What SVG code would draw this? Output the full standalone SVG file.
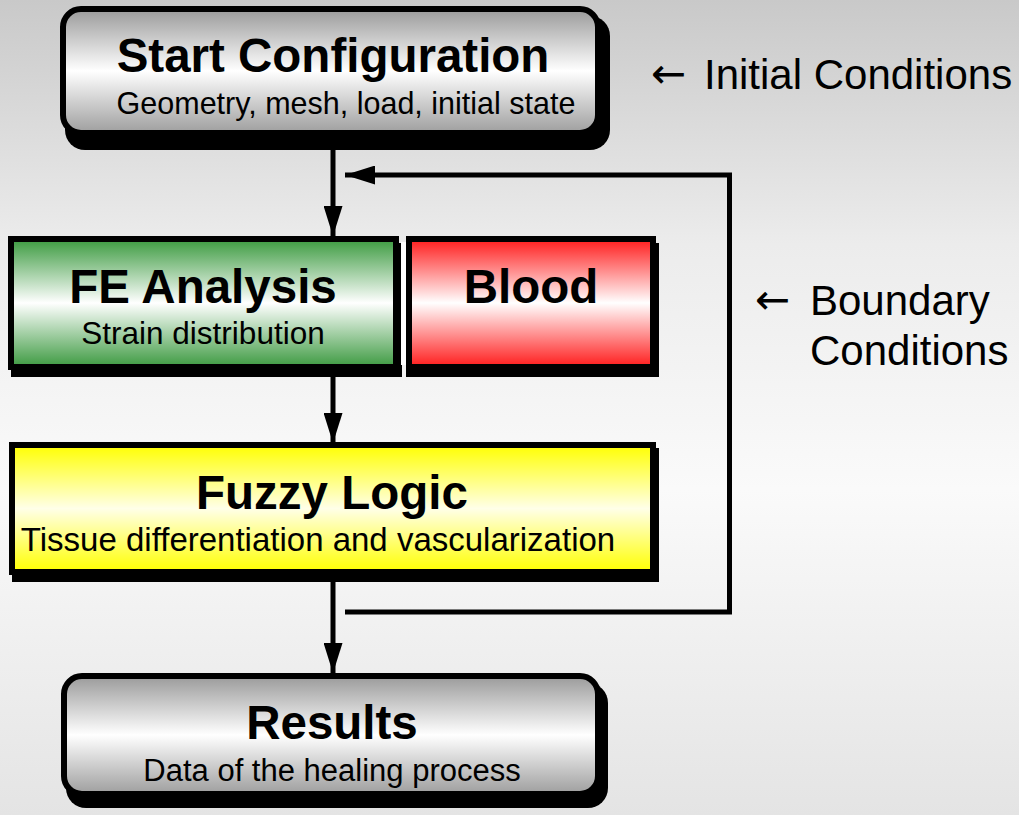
<svg xmlns="http://www.w3.org/2000/svg" width="1019" height="815" viewBox="0 0 1019 815">
  <defs>
    <linearGradient id="bg" x1="0" y1="0" x2="0" y2="1">
      <stop offset="0" stop-color="#c9c9c9"/>
      <stop offset="0.3" stop-color="#ececec"/>
      <stop offset="0.6" stop-color="#fafafa"/>
      <stop offset="1" stop-color="#e4e4e4"/>
    </linearGradient>
    <linearGradient id="gGray" x1="0" y1="0" x2="0" y2="1">
      <stop offset="0" stop-color="#9a9a9a"/>
      <stop offset="0.5" stop-color="#ffffff"/>
      <stop offset="1" stop-color="#9e9e9e"/>
    </linearGradient>
    <linearGradient id="gGreen" x1="0" y1="0" x2="0" y2="1">
      <stop offset="0" stop-color="#3b9a3f"/>
      <stop offset="0.5" stop-color="#ffffff"/>
      <stop offset="1" stop-color="#3d9a41"/>
    </linearGradient>
    <linearGradient id="gRed" x1="0" y1="0" x2="0" y2="1">
      <stop offset="0" stop-color="#ff1c1c"/>
      <stop offset="0.5" stop-color="#ffffff"/>
      <stop offset="1" stop-color="#ff1c1c"/>
    </linearGradient>
    <linearGradient id="gYellow" x1="0" y1="0" x2="0" y2="1">
      <stop offset="0" stop-color="#ffff00"/>
      <stop offset="0.5" stop-color="#ffffe8"/>
      <stop offset="1" stop-color="#ffff00"/>
    </linearGradient>
    <marker id="head" markerWidth="30" markerHeight="19" refX="30" refY="9.5" orient="auto" markerUnits="userSpaceOnUse">
      <path d="M0,0 L30,9.5 L0,19 Z" fill="#000"/>
    </marker>
  </defs>
  <style>
    .box { stroke: #000; stroke-width: 6; }
    .shadow { fill: #000; }
    .title { font-family: "Liberation Sans", Arial, sans-serif; font-weight: bold; font-size: 47.5px; fill: #000; text-anchor: middle; }
    .sub { font-family: "Liberation Sans", Arial, sans-serif; font-size: 31px; fill: #000; text-anchor: middle; }
    .note { font-family: "Liberation Sans", Arial, sans-serif; font-size: 42px; fill: #000; }
    .arrow { font-family: "DejaVu Sans", sans-serif; font-size: 42px; fill: #000; }
    .wire { fill: none; stroke: #000; stroke-width: 5; }
  </style>

  <rect x="0" y="0" width="1019" height="815" fill="url(#bg)"/>

  <!-- connectors -->
  <g id="connectors">
    <line class="wire" x1="333" y1="150" x2="333" y2="236" marker-end="url(#head)"/>
    <line class="wire" x1="333" y1="377" x2="333" y2="443" marker-end="url(#head)"/>
    <line class="wire" x1="333" y1="582" x2="333" y2="673" marker-end="url(#head)"/>
    <polyline class="wire" points="345,612 729.5,612 729.5,175 345,175" marker-end="url(#head)"/>
  </g>

  <!-- start configuration -->
  <g id="start">
    <rect class="shadow" x="65" y="16" width="545" height="134" rx="20"/>
    <rect class="box" x="63" y="9" width="535" height="124" rx="18" fill="url(#gGray)"/>
    <text class="title" x="333" y="72">Start Configuration</text>
    <text class="sub" x="346" y="114" style="font-size:30.5px">Geometry, mesh, load, initial state</text>
  </g>

  <!-- FE analysis -->
  <g id="fe">
    <rect class="shadow" x="11" y="243" width="391" height="134"/>
    <rect class="box" x="11" y="239" width="385" height="128" fill="url(#gGreen)"/>
    <text class="title" x="203" y="303">FE Analysis</text>
    <text class="sub" x="203" y="344" style="font-size:31.5px">Strain distribution</text>
  </g>

  <!-- blood -->
  <g id="blood">
    <rect class="shadow" x="406" y="243" width="253" height="134"/>
    <rect class="box" x="409" y="239" width="244" height="128" fill="url(#gRed)"/>
    <rect x="401" y="242" width="5" height="123" fill="#fff"/>
    <text class="title" x="531" y="303">Blood</text>
  </g>

  <!-- fuzzy logic -->
  <g id="fuzzy">
    <rect class="shadow" x="12" y="448" width="647" height="134"/>
    <rect class="box" x="12" y="445" width="641" height="127" fill="url(#gYellow)"/>
    <text class="title" x="332" y="509">Fuzzy Logic</text>
    <text class="sub" x="318" y="551" style="font-size:33px">Tissue differentiation and vascularization</text>
  </g>

  <!-- results -->
  <g id="results">
    <rect class="shadow" x="66" y="683" width="542" height="125" rx="20"/>
    <rect class="box" x="64" y="676" width="534" height="118" rx="18" fill="url(#gGray)"/>
    <text class="title" x="332" y="739">Results</text>
    <text class="sub" x="332" y="781">Data of the healing process</text>
  </g>

  <!-- annotations -->
  <g id="initial">
    <text class="arrow" x="651" y="88">←</text>
    <text class="note" x="704" y="89">Initial Conditions</text>
  </g>
  <g id="boundary">
    <text class="arrow" x="755" y="314">←</text>
    <text class="note" x="810" y="315">Boundary</text>
    <text class="note" x="810" y="365">Conditions</text>
  </g>
</svg>
